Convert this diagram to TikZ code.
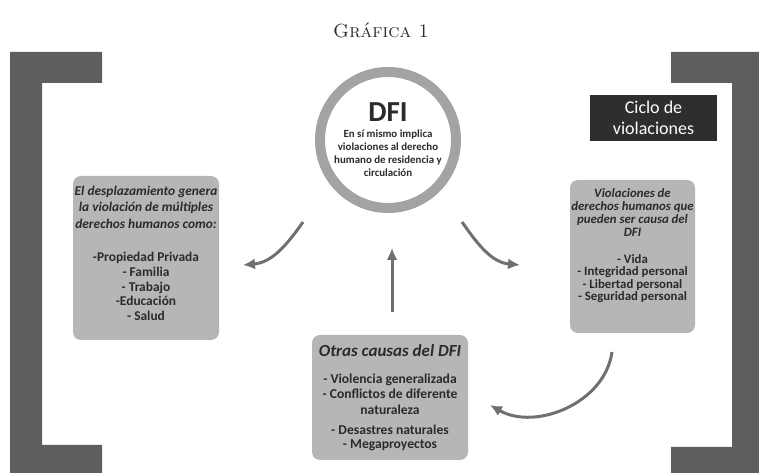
\documentclass[tikz,border=0pt]{standalone}
\usepackage{fontspec}
\newfontfamily\diagfont{Carlito}
\usetikzlibrary{positioning,arrows.meta}

\definecolor{bracketgray}{HTML}{5E5E5E}
\definecolor{ringgray}{HTML}{A3A3A3}
\definecolor{boxgray}{HTML}{B6B6B6}
\definecolor{arrowgray}{HTML}{707070}
\definecolor{textdark}{HTML}{2B2B2B}
\definecolor{cyclebox}{HTML}{2E2E2E}

\begin{document}
\begin{tikzpicture}[x=1pt, y=1pt, >=Latex,
  panel/.style={rectangle, rounded corners=8pt, fill=boxgray, text=textdark, align=center, inner sep=0pt},
  arr/.style={-{Latex[length=12pt, width=11pt]}, line width=3pt, draw=arrowgray}]
  \useasboundingbox (0,0) rectangle (759,473);

  % Brackets
  \fill[bracketgray] (10,0) -- (102,0) -- (102,28) -- (42,28) -- (42,390) -- (102,390) -- (102,421) -- (10,421) -- cycle;
  \fill[bracketgray] (759,0) -- (671,0) -- (671,26) -- (732,26) -- (732,390) -- (671,390) -- (671,421) -- (759,421) -- cycle;

  % Nodes
  \node[text=textdark] (title) at (381,443) {\fontsize{19}{21}\selectfont\textsc{Gráfica 1}};
  \node[circle, draw=ringgray, line width=10pt, fill=white, minimum size=136pt, inner sep=0pt, text=textdark, align=center,
        font=\diagfont\bfseries\fontsize{10.9}{13.3}\selectfont] (dfi) at (388,333)
        {{\fontsize{29}{29}\selectfont DFI}\\[2pt] En sí mismo implica\\violaciones al derecho\\humano de residencia y\\circulación};
  \node[panel, minimum width=146pt, minimum height=164pt, font=\diagfont\bfseries\fontsize{13.4}{14.7}\selectfont] (derechos) at (146,215)
        {\textit{El desplazamiento genera}\\[1.5pt]\textit{la violación de múltiples}\\[1.5pt]\textit{derechos humanos como:}\\[19pt]
         -Propiedad Privada\\- Familia\\- Trabajo\\-Educación\\- Salud\\[-5.7pt]\mbox{}};
  \node[panel, minimum width=125pt, minimum height=153pt, font=\diagfont\bfseries\fontsize{12.8}{12.5}\selectfont] (causa) at (632.5,216.5)
        {\textit{Violaciones de}\\[0.5pt]\textit{derechos humanos que}\\[0.5pt]\textit{pueden ser causa del}\\[0.5pt]\textit{DFI}\\[14.5pt]
         - Vida\\- Integridad personal\\- Libertad personal\\- Seguridad personal\\[11.5pt]\mbox{}};
  \node[panel, minimum width=156pt, minimum height=125pt, font=\diagfont\bfseries\fontsize{13.6}{15.5}\selectfont] (otras) at (390,75.5)
        {{\itshape\fontsize{17}{17}\selectfont Otras causas del DFI}\\[11.5pt]
         - Violencia generalizada\\- Conflictos de diferente\\naturaleza\\[4.5pt]
         - Desastres naturales\\[-1.5pt]- Megaproyectos};
  \node[rectangle, fill=cyclebox, text=white, minimum width=127pt, minimum height=46pt, align=center,
        font=\diagfont\fontsize{18}{21}\selectfont] (ciclo) at (653.5,355) {Ciclo de\\violaciones};

  % Arrows
  \coordinate (dfiL) at (303,251);
  \coordinate (dfiR) at (462,251);
  \coordinate (derechosE) at (243,208);
  \coordinate (causaW) at (520,208);
  \coordinate (otrasN) at (392,161);
  \coordinate (dfiS) at (392,225);
  \coordinate (causaS) at (612,121);
  \coordinate (otrasE) at (490,68);
  \draw[arr] (dfiL) to[out=235, in=5] (derechosE);
  \draw[arr] (dfiR) to[out=-55, in=175] (causaW);
  \draw[arr] (otrasN) -- (dfiS);
  \draw[arr] (causaS) to[out=262, in=-30] (otrasE);
\end{tikzpicture}
\end{document}
